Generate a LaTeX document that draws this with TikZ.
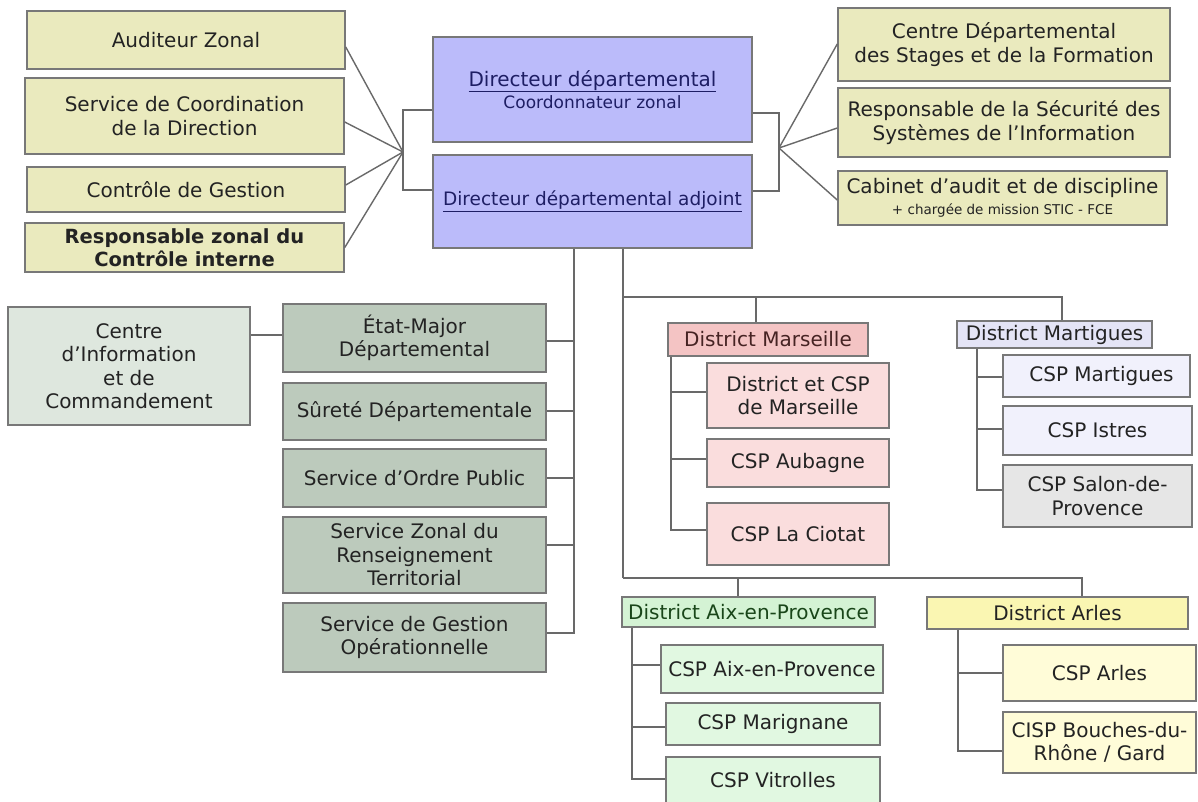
\documentclass[tikz,border=0pt]{standalone}
\usepackage{fontspec}
\setmainfont{DejaVu Sans}
\usetikzlibrary{calc}
\definecolor{boxline}{RGB}{120,120,120}
\definecolor{connc}{RGB}{105,105,105}
\definecolor{txt}{RGB}{35,35,35}
\definecolor{navy}{RGB}{30,30,100}
\definecolor{yel}{RGB}{234,234,190}
\definecolor{dirc}{RGB}{187,187,250}
\definecolor{grn}{RGB}{188,202,188}
\definecolor{cicc}{RGB}{222,231,222}
\definecolor{dmc}{RGB}{244,196,196}
\definecolor{mc}{RGB}{250,221,221}
\definecolor{dmac}{RGB}{228,228,246}
\definecolor{tc}{RGB}{241,241,252}
\definecolor{salc}{RGB}{230,230,230}
\definecolor{dac}{RGB}{212,243,212}
\definecolor{xc}{RGB}{225,248,225}
\definecolor{drc}{RGB}{250,246,178}
\definecolor{lc}{RGB}{255,252,216}
\definecolor{aixtxt}{RGB}{25,70,25}
\definecolor{martxt}{RGB}{70,35,35}
\begin{document}
\begin{tikzpicture}[x=1pt,y=-1pt,
  box/.style={draw=boxline, line width=1.5pt, align=center, inner sep=0pt,
    font=\fontsize{20}{23.5}\selectfont, text=txt},
  conn/.style={draw=connc, line width=1.4pt}]
\useasboundingbox (0,0) rectangle (1198,801);
\fill[white] (0,0) rectangle (1198,801);

% top left boxes
\node[box, fill=yel, minimum width=318pt, minimum height=58pt] (A1) at (186,40) {Auditeur Zonal};
\node[box, fill=yel, minimum width=319pt, minimum height=76pt] (A2) at (184.5,116) {Service de Coordination\\de la Direction};
\node[box, fill=yel, minimum width=318pt, minimum height=45pt] (A3) at (186,189.5) {Contrôle de Gestion};
\node[box, fill=yel, minimum width=319pt, minimum height=49pt, font=\fontsize{19.5}{23}\selectfont\bfseries] (A4) at (184.5,247.5) {Responsable zonal du\\Contrôle interne};

% directors
\node[box, fill=dirc, text=navy, minimum width=319pt, minimum height=105pt] (D1) at (592.5,89.5)
  {\underline{Directeur départemental}\\[-1pt]{\fontsize{17}{20}\selectfont Coordonnateur zonal}};
\node[box, fill=dirc, text=navy, minimum width=319pt, minimum height=93pt, font=\fontsize{18.5}{22}\selectfont] (D2) at (592.5,201.5)
  {\underline{Directeur départemental adjoint}};

% top right boxes
\node[box, fill=yel, minimum width=332pt, minimum height=73pt] (R1) at (1004,44.5) {Centre Départemental\\des Stages et de la Formation};
\node[box, fill=yel, minimum width=332pt, minimum height=69pt] (R2) at (1004,122.5) {Responsable de la Sécurité des\\Systèmes de l'Information};
\node[box, fill=yel, minimum width=329pt, minimum height=54pt] (R3) at (1002.5,198)
  {Cabinet d'audit et de discipline\\[-3pt]{\fontsize{13.5}{16}\selectfont + chargée de mission STIC - FCE}};

% left services
\node[box, fill=cicc, minimum width=242pt, minimum height=118pt] (CIC) at (129,366) {Centre\\d'Information\\et de\\Commandement};
\node[box, fill=grn, minimum width=263pt, minimum height=68pt] (G1) at (414.5,338) {État-Major\\Départemental};
\node[box, fill=grn, minimum width=263pt, minimum height=57pt] (G2) at (414.5,411.5) {Sûreté Départementale};
\node[box, fill=grn, minimum width=263pt, minimum height=58pt] (G3) at (414.5,478) {Service d'Ordre Public};
\node[box, fill=grn, minimum width=263pt, minimum height=76pt] (G4) at (414.5,555) {Service Zonal du\\Renseignement\\Territorial};
\node[box, fill=grn, minimum width=263pt, minimum height=69pt] (G5) at (414.5,637.5) {Service de Gestion\\Opérationnelle};

% District Marseille
\node[box, fill=dmc, text=martxt, minimum width=200pt, minimum height=33pt] (DM) at (768,339.5) {District Marseille};
\node[box, fill=mc, minimum width=182pt, minimum height=65pt] (M1) at (798,395.5) {District et CSP\\de Marseille};
\node[box, fill=mc, minimum width=182pt, minimum height=48pt] (M2) at (798,463) {CSP Aubagne};
\node[box, fill=mc, minimum width=182pt, minimum height=62pt] (M3) at (798,534) {CSP La Ciotat};

% District Martigues
\node[box, fill=dmac, minimum width=195pt, minimum height=27pt] (DMa) at (1054.5,334.5) {District Martigues};
\node[box, fill=tc, minimum width=187pt, minimum height=42pt] (T1) at (1096.5,376) {\hspace*{10pt}CSP Martigues};
\node[box, fill=tc, minimum width=189pt, minimum height=49pt] (T2) at (1097.5,430.5) {CSP Istres};
\node[box, fill=salc, minimum width=189pt, minimum height=62pt] (T3) at (1097.5,496) {CSP Salon-de-\\Provence};

% District Aix
\node[box, fill=dac, text=aixtxt, minimum width=253pt, minimum height=30pt] (DA) at (748.5,612) {District Aix-en-Provence};
\node[box, fill=xc, minimum width=222pt, minimum height=48pt] (X1) at (772,669) {CSP Aix-en-Provence};
\node[box, fill=xc, minimum width=214pt, minimum height=42pt] (X2) at (773,724) {CSP Marignane};
\node[box, fill=xc, minimum width=214pt, minimum height=46pt] (X3) at (773,780) {CSP Vitrolles};

% District Arles
\node[box, fill=drc, minimum width=261pt, minimum height=32pt] (DR) at (1057.5,613) {District Arles};
\node[box, fill=lc, minimum width=193pt, minimum height=56pt] (L1) at (1099.5,673) {CSP Arles};
\node[box, fill=lc, minimum width=193pt, minimum height=61pt] (L2) at (1099.5,742.5) {CISP Bouches-du-\\Rhône / Gard};

% ---- connectors ----
\coordinate (fl) at (403,152);
\coordinate (fr) at (779,148);
\draw[conn] ([yshift=-7pt]A1.east) -- (fl);
\draw[conn] ([yshift=-6pt]A2.east) -- (fl);
\draw[conn] ([yshift=4.5pt]A3.east) -- (fl);
\draw[conn] (A4.east) -- (fl);
\draw[conn] ([yshift=-20.5pt]D1.west) -| (fl) |- ([yshift=11.5pt]D2.west);
\draw[conn] ([yshift=-23.5pt]D1.east) -| (fr) |- ([yshift=10.5pt]D2.east);
\draw[conn] (fr) -- ([yshift=0.5pt]R1.west);
\draw[conn] (fr) -- ([yshift=-5.5pt]R2.west);
\draw[conn] (fr) -- ([yshift=-2pt]R3.west);

% left bus
\coordinate (bl) at (574,633);
\draw[conn] (D2.south -| bl) -- (bl) -- ([yshift=4.5pt]G5.east);
\draw[conn] ([yshift=-3pt]G1.east) -- ([yshift=-3pt]G1.east -| bl);
\draw[conn] ([yshift=0.5pt]G2.east) -- ([yshift=0.5pt]G2.east -| bl);
\draw[conn] (G3.east) -- (G3.east -| bl);
\draw[conn] ([yshift=10pt]G4.east) -- ([yshift=10pt]G4.east -| bl);
\draw[conn] ([yshift=3pt]G1.west) -- ([yshift=3pt]G1.west -| CIC.east);

% right bus
\coordinate (j1) at (623,297);
\coordinate (j2) at (623,578);
\draw[conn] (D2.south -| j1) -- (j2);
\draw[conn] (j1) -| ([xshift=7.5pt]DMa.north);
\draw[conn] ([xshift=-12pt]DM.north) -- ([xshift=-12pt]DM.north |- j1);
\draw[conn] (j2) -| ([xshift=24.5pt]DR.north);
\draw[conn] ([xshift=-10.5pt]DA.north) -- ([xshift=-10.5pt]DA.north |- j2);

% Marseille children
\coordinate (mB) at (671,530);
\draw[conn] (DM.south -| mB) |- ([yshift=4pt]M3.west);
\draw[conn] ([yshift=3.5pt]M1.west) -- ([yshift=3.5pt]M1.west -| mB);
\draw[conn] ([yshift=4pt]M2.west) -- ([yshift=4pt]M2.west -| mB);

% Martigues children
\coordinate (tB) at (977,490);
\draw[conn] (DMa.south -| tB) |- ([yshift=6pt]T3.west);
\draw[conn] ([yshift=-1pt]T1.west) -- ([yshift=-1pt]T1.west -| tB);
\draw[conn] ([yshift=1.5pt]T2.west) -- ([yshift=1.5pt]T2.west -| tB);

% Aix children
\coordinate (aB) at (632,779);
\draw[conn] (DA.south -| aB) |- ([yshift=1pt]X3.west);
\draw[conn] ([yshift=4pt]X1.west) -- ([yshift=4pt]X1.west -| aB);
\draw[conn] ([yshift=-3pt]X2.west) -- ([yshift=-3pt]X2.west -| aB);

% Arles children
\coordinate (rB) at (958,751);
\draw[conn] (DR.south -| rB) |- ([yshift=-8.5pt]L2.west);
\draw[conn] (L1.west) -- (L1.west -| rB);
\end{tikzpicture}
\end{document}
